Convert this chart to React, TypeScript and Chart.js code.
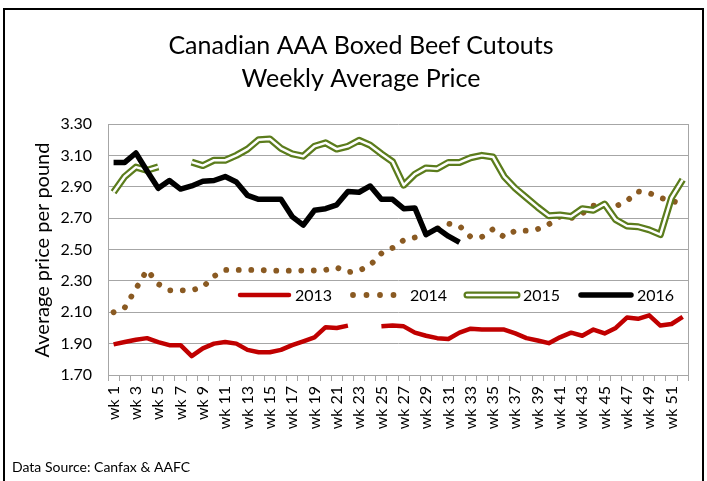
import React, { useEffect, useRef } from 'react';
import { Chart, registerables } from 'chart.js';

Chart.register(...registerables);

const FONT = 'Lato, "Open Sans", sans-serif';

const weeks = [
  'wk 1', 'wk 2', 'wk 3', 'wk 4', 'wk 5', 'wk 6', 'wk 7', 'wk 8', 'wk 9', 'wk 10',
  'wk 11', 'wk 12', 'wk 13', 'wk 14', 'wk 15', 'wk 16', 'wk 17', 'wk 18', 'wk 19', 'wk 20',
  'wk 21', 'wk 22', 'wk 23', 'wk 24', 'wk 25', 'wk 26', 'wk 27', 'wk 28', 'wk 29', 'wk 30',
  'wk 31', 'wk 32', 'wk 33', 'wk 34', 'wk 35', 'wk 36', 'wk 37', 'wk 38', 'wk 39', 'wk 40',
  'wk 41', 'wk 42', 'wk 43', 'wk 44', 'wk 45', 'wk 46', 'wk 47', 'wk 48', 'wk 49', 'wk 50',
  'wk 51', 'wk 52',
];

const price2013 = [
  1.895, 1.91, 1.925, 1.935, 1.91, 1.89, 1.89, 1.82, 1.87, 1.90,
  1.91, 1.90, 1.86, 1.845, 1.845, 1.86, 1.89, 1.915, 1.94, 2.005,
  2.00, 2.015, null, null, 2.01, 2.015, 2.01, 1.97, 1.95, 1.935,
  1.93, 1.97, 1.995, 1.99, 1.99, 1.99, 1.965, 1.935, 1.92, 1.903,
  1.94, 1.97, 1.95, 1.99, 1.965, 2.00, 2.066, 2.058, 2.08, 2.015,
  2.025, 2.07,
];

const price2014 = [
  2.10, 2.13, 2.25, 2.37, 2.28, 2.24, 2.24, 2.24, 2.26, 2.33,
  2.37, 2.37, 2.37, 2.37, 2.365, 2.365, 2.365, 2.366, 2.366, 2.37,
  2.385, 2.356, 2.365, 2.40, 2.475, 2.51, 2.56, 2.577, 2.60, 2.63,
  2.665, 2.65, 2.58, 2.58, 2.63, 2.58, 2.62, 2.62, 2.63, 2.66,
  2.71, 2.70, 2.73, 2.78, 2.78, 2.775, 2.81, 2.87, 2.86, 2.83,
  2.81, 2.79,
];

const price2015 = [
  2.865, 2.965, 3.025, 3.005, 3.027, null, null, 3.057, 3.035, 3.069,
  3.069, 3.10, 3.14, 3.20, 3.205, 3.145, 3.11, 3.095, 3.158, 3.18,
  3.14, 3.158, 3.196, 3.165, 3.11, 3.06, 2.91, 2.98, 3.02, 3.015,
  3.055, 3.055, 3.085, 3.10, 3.09, 2.965, 2.89, 2.83, 2.77, 2.715,
  2.72, 2.71, 2.76, 2.75, 2.79, 2.69, 2.65, 2.645, 2.625, 2.595,
  2.83, 2.945,
];

const price2016 = [
  3.055, 3.055, 3.115, 3.00, 2.89, 2.94, 2.885, 2.905, 2.935, 2.94,
  2.965, 2.93, 2.845, 2.82, 2.82, 2.82, 2.71, 2.655, 2.75, 2.76,
  2.785, 2.87, 2.865, 2.905, 2.82, 2.82, 2.76, 2.765, 2.595, 2.635,
  2.585, 2.545,
];

const seriesNames = ['2013', '2014', '2015', '2016'];
const titleLines = ['Canadian AAA Boxed Beef Cutouts', 'Weekly Average Price'];
const yAxisTitle = 'Average price per pound';
const sourceNote = 'Data Source: Canfax & AAFC';

const RED = '#C00000';
const BROWN = '#8A5A22';
const GREEN = '#5B7C1C';
const GRID = '#A6A6A6';

const decorPlugin = {
  id: 'decor',
  afterDraw(chart: any) {
    const ctx = chart.ctx;
    const ca = chart.chartArea;
    ctx.save();
    // plot border (right side)
    ctx.strokeStyle = GRID;
    ctx.lineWidth = 1;
    ctx.beginPath();
    ctx.moveTo(Math.round(ca.right) + 0.5, ca.top);
    ctx.lineTo(Math.round(ca.right) + 0.5, ca.bottom);
    ctx.stroke();

    // outer frame
    ctx.strokeStyle = '#000';
    ctx.lineWidth = 2;
    ctx.strokeRect(4, 9, 699, 490);

    // title
    ctx.fillStyle = '#000';
    ctx.textAlign = 'center';
    ctx.textBaseline = 'middle';
    ctx.font = `25px ${FONT}`;
    ctx.fillText(titleLines[0], 361, 46);
    ctx.fillText(titleLines[1], 361, 79);

    // y axis title
    ctx.save();
    ctx.translate(43, 250);
    ctx.rotate(-Math.PI / 2);
    ctx.font = `20px ${FONT}`;
    ctx.fillText(yAxisTitle, 0, 0);
    ctx.restore();

    // source
    ctx.textAlign = 'left';
    ctx.font = `14px ${FONT}`;
    ctx.fillText(sourceNote, 12, 467);

    // legend
    const ly = 295;
    ctx.lineCap = 'round';
    ctx.strokeStyle = RED;
    ctx.lineWidth = 4.5;
    ctx.beginPath();
    ctx.moveTo(240, ly);
    ctx.lineTo(289, ly);
    ctx.stroke();

    ctx.fillStyle = BROWN;
    [353, 366.5, 380, 393.5].forEach((x) => {
      ctx.beginPath();
      ctx.arc(x, ly, 2.9, 0, Math.PI * 2);
      ctx.fill();
    });

    ctx.strokeStyle = GREEN;
    ctx.lineWidth = 7;
    ctx.beginPath();
    ctx.moveTo(467, ly);
    ctx.lineTo(517, ly);
    ctx.stroke();
    ctx.strokeStyle = '#fff';
    ctx.lineWidth = 2.5;
    ctx.beginPath();
    ctx.moveTo(467, ly);
    ctx.lineTo(517, ly);
    ctx.stroke();

    ctx.strokeStyle = '#000';
    ctx.lineWidth = 5.5;
    ctx.beginPath();
    ctx.moveTo(581, ly);
    ctx.lineTo(631, ly);
    ctx.stroke();

    ctx.fillStyle = '#000';
    ctx.font = `16px ${FONT}`;
    ctx.textBaseline = 'middle';
    ctx.fillText(seriesNames[0], 295, ly + 1);
    ctx.fillText(seriesNames[1], 410, ly + 1);
    ctx.fillText(seriesNames[2], 523, ly + 1);
    ctx.fillText(seriesNames[3], 637, ly + 1);
    ctx.restore();
  },
};

export default function App() {
  const ref = useRef<HTMLCanvasElement | null>(null);

  useEffect(() => {
    if (!ref.current) return;
    const chart = new Chart(ref.current, {
      type: 'line',
      data: {
        labels: weeks,
        datasets: [
          {
            label: seriesNames[3],
            data: price2016,
            borderColor: '#000',
            borderWidth: 5.5,
            pointRadius: 0,
            tension: 0,
            order: 0,
            borderJoinStyle: 'round',
          },
          {
            label: seriesNames[2] + ' inner',
            data: price2015,
            borderColor: '#fff',
            borderWidth: 2.5,
            pointRadius: 0,
            tension: 0,
            order: 1,
            borderJoinStyle: 'round',
          },
          {
            label: seriesNames[2],
            data: price2015,
            borderColor: GREEN,
            borderWidth: 7,
            pointRadius: 0,
            tension: 0,
            order: 2,
            borderJoinStyle: 'round',
          },
          {
            label: seriesNames[1],
            data: price2014,
            borderColor: BROWN,
            borderWidth: 5.8,
            borderDash: [0.01, 12.5],
            borderCapStyle: 'round',
            pointRadius: 0,
            tension: 0,
            order: 3,
          },
          {
            label: seriesNames[0],
            data: price2013,
            borderColor: RED,
            borderWidth: 4.5,
            pointRadius: 0,
            tension: 0,
            order: 4,
            borderJoinStyle: 'round',
          },
        ],
      },
      options: {
        responsive: false,
        animation: false,
        devicePixelRatio: 1,
        spanGaps: false,
        layout: { padding: { top: 124, right: 11, left: 0, bottom: 0 } },
        plugins: {
          legend: { display: false },
          title: { display: false },
          tooltip: { enabled: false },
        },
        scales: {
          x: {
            type: 'category',
            offset: true,
            afterFit: (s: any) => { s.height = 106; },
            grid: {
              offset: true,
              drawOnChartArea: false,
              drawTicks: true,
              tickLength: 6,
              color: GRID,
            },
            border: { display: true, color: GRID },
            ticks: {
              autoSkip: false,
              minRotation: 90,
              maxRotation: 90,
              padding: 5,
              color: '#000',
              font: { family: FONT, size: 16 },
              callback: (_v: any, i: number) => (i % 2 === 0 ? weeks[i] : ''),
            },
          },
          y: {
            min: 1.7,
            max: 3.3,
            afterFit: (s: any) => { s.width = 108; },
            grid: { color: GRID, drawTicks: false },
            border: { display: true, color: GRID },
            ticks: {
              stepSize: 0.2,
              padding: 16,
              color: '#000',
              font: { family: FONT, size: 16 },
              callback: (v: any) => Number(v).toFixed(2),
            },
          },
        },
      },
      plugins: [decorPlugin],
    });
    return () => chart.destroy();
  }, []);

  return (
    <div style={{ position: 'fixed', left: 0, top: 0, width: 707, height: 481, background: '#fff' }}>
      <canvas ref={ref} width={707} height={481} style={{ width: 707, height: 481 }} />
    </div>
  );
}
